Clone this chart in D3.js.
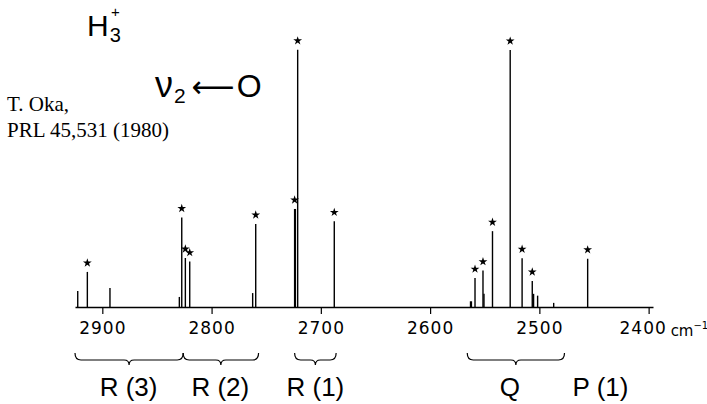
<!DOCTYPE html>
<html><head><meta charset="utf-8">
<script src="https://cdn.jsdelivr.net/npm/d3@7"></script>
<style>body{margin:0;background:#fff}svg{display:block}</style>
</head><body>
<svg id="c" width="707" height="404"></svg>
<script>
// Line positions (cm^-1) and relative intensities
const freqs      = [2922.5, 2913.7, 2893.0, 2829.5, 2827.3, 2824.0, 2820.0, 2762.4, 2759.6, 2724.0, 2723.3, 2721.2, 2687.7,
                    2563.0, 2562.2, 2558.9, 2551.6, 2550.7, 2542.9, 2526.7, 2515.8, 2506.5, 2505.3, 2501.6, 2486.9, 2455.8];
const intens     = [6.2, 13.6, 7.4, 3.9, 34.7, 19.0, 17.6, 5.4, 32.2, 38.0, 38.0, 99.7, 33.2,
                    2.2, 2.2, 11.2, 14.1, 5.1, 29.4, 99.6, 18.9, 10.1, 5.1, 4.4, 1.6, 18.7];
const starred    = [false, true, false, false, true, true, true, false, true, true, false, true, true,
                    false, false, true, true, false, true, true, true, true, false, false, false, true];
const tickValues = [2900, 2800, 2700, 2600, 2500, 2400];
const groupNames = ["R (3)", "R (2)", "R (1)", "Q", "P (1)"];
const groupFrom  = [2925, 2826, 2724, 2566, null];
const groupTo    = [2826, 2757, 2686, 2477, null];
const groupLabel = [2876, 2792, 2705, 2527, 2444];

const svg = d3.select("#c");
const x = d3.scaleLinear().domain([2925, 2396]).range([75, 653]);
const y = d3.scaleLinear().domain([0, 100]).range([307, 49]);

// axis
const ax = svg.append("g").attr("transform", `translate(0,${y(0)})`)
  .call(d3.axisBottom(x).tickValues(tickValues).tickSize(7).tickSizeOuter(0).tickPadding(8).tickFormat(d3.format("d")));
ax.select(".domain").attr("stroke", "#000").attr("stroke-width", 1.3);
ax.selectAll(".tick line").attr("stroke", "#000").attr("stroke-width", 1.2);
ax.selectAll(".tick text").attr("fill", "#000").style("font-family", "DejaVu Sans")
  .style("font-size", "17px").style("letter-spacing", "1px");
ax.selectAll(".tick").filter(d => d === 2400).select("text").attr("dx", -6);
svg.append("text").attr("x", x(2400) + 22).attr("y", y(0) + 29)
  .style("font-family", "DejaVu Sans").style("font-size", "15px").text("cm")
  .append("tspan").attr("dy", -7).style("font-size", "10px").text("−1");

// spectral lines
const data = freqs.map((f, i) => ({f, v: intens[i], s: starred[i]}));
svg.append("g").selectAll("line").data(data).join("line")
  .attr("x1", d => x(d.f)).attr("x2", d => x(d.f))
  .attr("y1", y(0)).attr("y2", d => y(d.v))
  .attr("stroke", "#000").attr("stroke-width", 1.4);

// star markers
svg.append("g").selectAll("path").data(data.filter(d => d.s)).join("path")
  .attr("d", d3.symbol().type(d3.symbolStar).size(24))
  .attr("transform", d => `translate(${x(d.f)},${y(d.v) - 9})`)
  .attr("fill", "#000");

// braces
function brace(x0, x1, yt) {
  const m = (x0 + x1) / 2, h = 7;
  return `M${x0},${yt} Q${x0},${yt + h} ${x0 + 6},${yt + h} L${m - 5},${yt + h} Q${m},${yt + h} ${m},${yt + h + 5}` +
         ` Q${m},${yt + h} ${m + 5},${yt + h} L${x1 - 6},${yt + h} Q${x1},${yt + h} ${x1},${yt}`;
}
groupNames.forEach((n, i) => {
  if (groupFrom[i] !== null) {
    svg.append("path").attr("d", brace(x(groupFrom[i]), x(groupTo[i]), 353))
      .attr("fill", "none").attr("stroke", "#000").attr("stroke-width", 1.2);
  }
  svg.append("text").attr("x", x(groupLabel[i])).attr("y", 396).attr("text-anchor", "middle")
    .style("font-family", "Liberation Sans").style("font-size", "26px").text(n);
});

// titles
const h = svg.append("text").attr("x", 87).attr("y", 36)
  .style("font-family", "Liberation Sans").style("font-size", "30px").text("H");
h.append("tspan").attr("dy", 6).attr("dx", 1).style("font-size", "20px").text("3");
svg.append("text").attr("x", 111).attr("y", 17).style("font-family", "Liberation Sans")
  .style("font-size", "15px").text("+");
const nu = svg.append("text").attr("x", 155).attr("y", 97)
  .style("font-family", "Liberation Sans").style("font-size", "36px").text("ν");
nu.append("tspan").attr("dy", 6).attr("dx", 1).style("font-size", "21px").text("2");
nu.append("tspan").attr("dy", -6).attr("dx", 6).style("font-family", "DejaVu Sans").style("font-size", "30px").text("⟵");
nu.append("tspan").attr("dx", 2).style("font-size", "32px").text("O");

svg.append("text").attr("x", 7).attr("y", 111).style("font-family", "Liberation Serif")
  .style("font-size", "21px").text("T. Oka,");
svg.append("text").attr("x", 7).attr("y", 137).style("font-family", "Liberation Serif")
  .style("font-size", "21px").text("PRL 45,531 (1980)");
</script>
</body></html>
